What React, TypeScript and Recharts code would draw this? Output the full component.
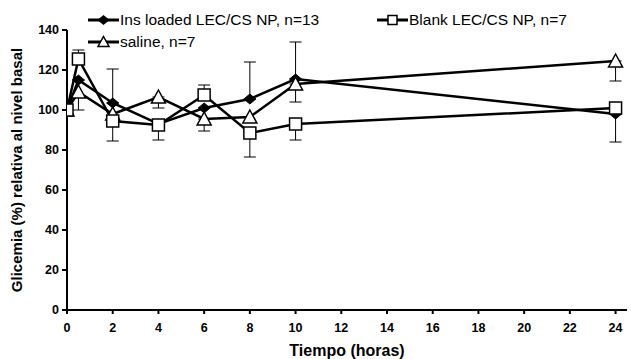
import { LineChart, Line, XAxis, YAxis, ErrorBar, Label } from 'recharts';

const FONT = '"Liberation Sans", Arial, Helvetica, sans-serif';

const hours = [0, 0.5, 2, 4, 6, 8, 10, 24];
const insLoaded = [100, 115, 103.5, 93, 101, 105.5, 115.5, 98];
const blank = [100, 125.5, 94.5, 92.5, 107.5, 88.5, 93, 101];
const saline = [100, 109, 98, 106.5, 95.5, 96.5, 113, 124.5];

// [below, above]; null = no bar visible
const insErr = [null, [15, 0], [0, 17], null, null, [0, 18.5], [0, 18.5], [14, 0]];
const blankErr = [null, [0, 4.5], [10, 0], [7.5, 0], [0, 5], [12, 0], [8, 0], null];
const salineErr = [null, null, null, [5.5, 0], [6, 0], null, [9, 0], [10, 0]];

const xTicks = [0, 2, 4, 6, 8, 10, 12, 14, 16, 18, 20, 22, 24];
const yTicks = [0, 20, 40, 60, 80, 100, 120, 140];

const data = hours.map((t, i) => ({
  t,
  ins: insLoaded[i],
  blank: blank[i],
  saline: saline[i],
  insErr: insErr[i],
  blankErr: blankErr[i],
  salineErr: salineErr[i],
}));

type DotProps = { cx?: number; cy?: number; index?: number };

function Diamond({ cx = 0, cy = 0, s = 6 }: { cx?: number; cy?: number; s?: number }) {
  return (
    <polygon
      points={`${cx},${cy - s + 1} ${cx + s},${cy} ${cx},${cy + s - 1} ${cx - s},${cy}`}
      fill="#000"
      stroke="#000"
      strokeWidth={1}
    />
  );
}

function Square({ cx = 0, cy = 0, s = 6 }: { cx?: number; cy?: number; s?: number }) {
  return <rect x={cx - s} y={cy - s} width={s * 2} height={s * 2} fill="#fff" stroke="#000" strokeWidth={1.5} />;
}

function Triangle({ cx = 0, cy = 0, s = 7 }: { cx?: number; cy?: number; s?: number }) {
  return (
    <polygon
      points={`${cx},${cy - s} ${cx + s},${cy + s - 1} ${cx - s},${cy + s - 1}`}
      fill="#fff"
      stroke="#000"
      strokeWidth={1.5}
    />
  );
}

const tickStyle = { fontSize: 12.5, fontWeight: 700, fill: '#000', fontFamily: FONT };

function LegendItem({ left, top, label, marker }: { left: number; top: number; label: string; marker: 'diamond' | 'square' | 'triangle' }) {
  return (
    <div style={{ position: 'absolute', left, top: top - 10, height: 20, display: 'flex', alignItems: 'center' }}>
      <svg width={31} height={20} style={{ display: 'block' }}>
        <line x1={0} y1={10} x2={31} y2={10} stroke="#000" strokeWidth={3} />
        {marker === 'diamond' && <Diamond cx={15.5} cy={10} s={5.5} />}
        {marker === 'square' && <Square cx={15.5} cy={10} s={4.5} />}
        {marker === 'triangle' && <Triangle cx={15.5} cy={10} s={5.5} />}
      </svg>
      <span style={{ marginLeft: 1, fontFamily: FONT, fontSize: 15.5, color: '#000', whiteSpace: 'nowrap' }}>{label}</span>
    </div>
  );
}

export default function App() {
  return (
    <div style={{ position: 'absolute', left: 0, top: 0, width: 631, height: 359, background: '#fff' }}>
      <LineChart width={631} height={359} data={data} margin={{ top: 30, right: 4, bottom: 0, left: 0 }}>
        <XAxis
          dataKey="t"
          type="number"
          domain={[0, 24.5]}
          ticks={xTicks}
          interval={0}
          allowDataOverflow
          height={49}
          stroke="#000"
          strokeWidth={2}
          tickSize={4}
          tick={tickStyle}
          tickMargin={9}
        >
          <Label value="Tiempo (horas)" position="insideBottom" offset={3} style={{ fontSize: 16, fontWeight: 700, fill: '#000', fontFamily: FONT }} />
        </XAxis>
        <YAxis
          type="number"
          domain={[0, 140]}
          ticks={yTicks}
          interval={0}
          width={67}
          stroke="#000"
          strokeWidth={2}
          tickSize={5}
          tick={tickStyle}
          tickMargin={3}
        >
          <Label
            value="Glicemia (%) relativa al nivel basal"
            angle={-90}
            position="insideLeft"
            offset={17}
            style={{ textAnchor: 'middle', fontSize: 15, fontWeight: 700, fill: '#000', fontFamily: FONT }}
          />
        </YAxis>
        <Line
          dataKey="ins"
          type="linear"
          stroke="#000"
          strokeWidth={2.5}
          isAnimationActive={false}
          dot={(p: DotProps) => <Diamond key={`i${p.index}`} cx={p.cx} cy={p.cy} />}
        >
          <ErrorBar dataKey="insErr" direction="y" width={6} stroke="#000" strokeWidth={1} isAnimationActive={false} />
        </Line>
        <Line
          dataKey="saline"
          type="linear"
          stroke="#000"
          strokeWidth={2.5}
          isAnimationActive={false}
          dot={(p: DotProps) => <Triangle key={`s${p.index}`} cx={p.cx} cy={p.cy} />}
        >
          <ErrorBar dataKey="salineErr" direction="y" width={6} stroke="#000" strokeWidth={1} isAnimationActive={false} />
        </Line>
        <Line
          dataKey="blank"
          type="linear"
          stroke="#000"
          strokeWidth={2.5}
          isAnimationActive={false}
          dot={(p: DotProps) => <Square key={`b${p.index}`} cx={p.cx} cy={p.cy} />}
        >
          <ErrorBar dataKey="blankErr" direction="y" width={6} stroke="#000" strokeWidth={1} isAnimationActive={false} />
        </Line>
      </LineChart>
      <LegendItem left={88} top={20} label="Ins loaded LEC/CS NP, n=13" marker="diamond" />
      <LegendItem left={377} top={20} label="Blank LEC/CS NP, n=7" marker="square" />
      <LegendItem left={88} top={42} label="saline, n=7" marker="triangle" />
    </div>
  );
}
